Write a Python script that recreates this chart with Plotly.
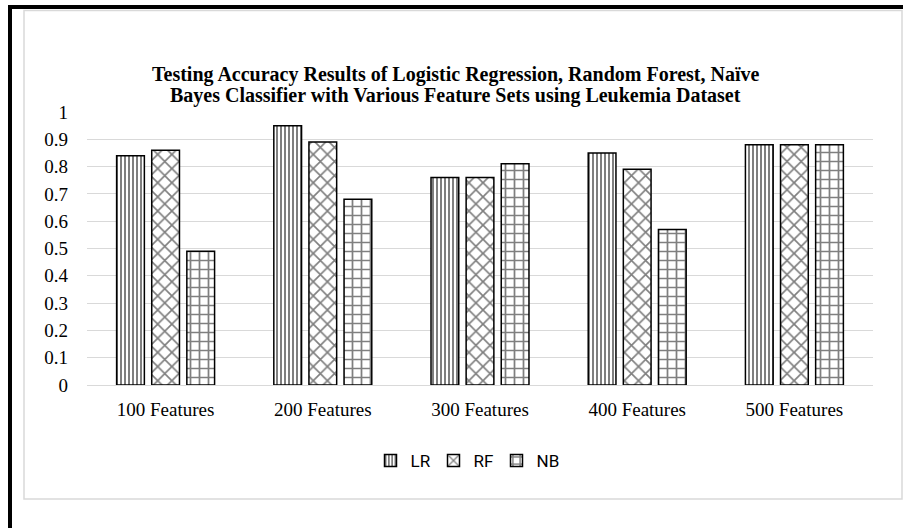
import plotly.graph_objects as go

# Feature-set categories and testing accuracy per classifier
categories = ["100 Features", "200 Features", "300 Features", "400 Features", "500 Features"]
lr_acc = [0.84, 0.95, 0.76, 0.85, 0.88]
rf_acc = [0.86, 0.89, 0.76, 0.79, 0.88]
nb_acc = [0.49, 0.68, 0.81, 0.57, 0.88]
y_ticks = [0, 0.1, 0.2, 0.3, 0.4, 0.5, 0.6, 0.7, 0.8, 0.9, 1]
title_lines = [
    "Testing Accuracy Results of Logistic Regression, Random Forest, Naïve",
    "Bayes Classifier with Various Feature Sets using Leukemia Dataset",
]

W, H = 908, 528
ML, MR, MT, MB = 87, 35, 112, 143
PW, PH = W - ML - MR, H - MT - MB


def px_x(px):
    return (px - ML) / PW


def px_y(py):
    return (H - MB - py) / PH


series = [
    ("LR", lr_acc, dict(shape="|", size=4, solidity=0.5)),
    ("RF", rf_acc, dict(shape="x", size=10, solidity=0.3)),
    ("NB", nb_acc, dict(shape="+", size=9, solidity=0.35)),
]

fig = go.Figure()
for name, vals, pat in series:
    fig.add_trace(go.Bar(
        x=categories, y=vals, name=name,
        marker=dict(
            color="white",
            line=dict(color="black", width=1.5),
            pattern=dict(fgcolor="black", bgcolor="white", fillmode="overlay", **pat),
        ),
    ))

serif = "Liberation Serif, Times New Roman, serif"

# Outer black edge lines and inner grey chart frame
shapes = [
    dict(type="line", xref="paper", yref="paper",
         x0=px_x(10), x1=px_x(10), y0=px_y(5), y1=px_y(530),
         line=dict(color="black", width=4)),
    dict(type="line", xref="paper", yref="paper",
         x0=px_x(8), x1=px_x(903), y0=px_y(7), y1=px_y(7),
         line=dict(color="black", width=4)),
    dict(type="rect", xref="paper", yref="paper",
         x0=px_x(24), x1=px_x(902), y0=px_y(10.5), y1=px_y(499),
         line=dict(color="#d9d9d9", width=1.5), fillcolor="rgba(0,0,0,0)", layer="below"),
]

# Two-line bold title
annotations = [
    dict(text=line, xref="paper", yref="paper", x=px_x(455), y=px_y(py),
         xanchor="center", yanchor="middle", showarrow=False,
         font=dict(family=serif, size=20, color="black", weight="bold"))
    for line, py in zip(title_lines, [74, 95])
]

fig.update_layout(
    width=W, height=H,
    margin=dict(l=ML, r=MR, t=MT, b=MB),
    paper_bgcolor="white", plot_bgcolor="white",
    barmode="group", bargap=0.33, bargroupgap=0.21,
    xaxis=dict(
        showgrid=False, showline=True, linecolor="#d9d9d9", linewidth=1,
        ticks="", ticklabelstandoff=7,
        tickfont=dict(family=serif, size=19, color="black"),
    ),
    yaxis=dict(
        range=[0, 1], tickvals=y_ticks, ticktext=[f"{v:g}" for v in y_ticks],
        showgrid=True, gridcolor="#d9d9d9", gridwidth=1, zeroline=False,
        ticks="", ticklabelstandoff=18,
        tickfont=dict(family=serif, size=19, color="black"),
    ),
    legend=dict(
        orientation="h", x=px_x(465), xanchor="center", y=px_y(461), yanchor="middle",
        font=dict(family="Liberation Sans Narrow, Roboto, sans-serif", size=17, color="black"),
        itemwidth=30, entrywidth=18, entrywidthmode="pixels", traceorder="normal",
    ),
    shapes=shapes,
    annotations=annotations,
)

fig.write_html("out.html")
